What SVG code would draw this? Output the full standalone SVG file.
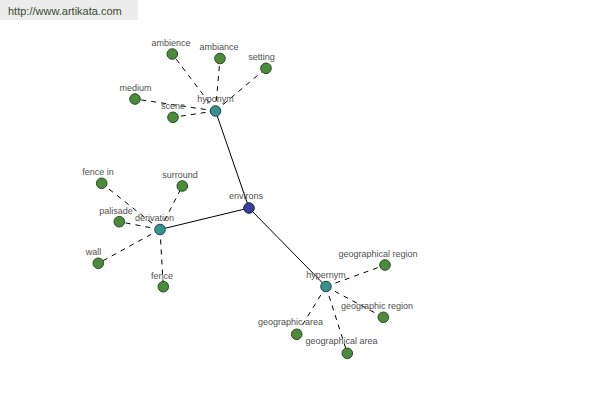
<svg xmlns="http://www.w3.org/2000/svg" width="600" height="400" viewBox="0 0 600 400">
<style>
text{font-family:"Liberation Sans",Arial,sans-serif;font-size:9px;fill:#505050;text-anchor:middle}
.leaf{fill:#4a8c3c;stroke:#2a4a20;stroke-width:1}
.hub{fill:#3a9090;stroke:#1f4a4a;stroke-width:1}
.root{fill:#3a3f9c;stroke:#1c1f4e;stroke-width:1}
.d{stroke:#000;stroke-width:1;stroke-dasharray:5,5;fill:none}
.s{stroke:#000;stroke-width:1;fill:none}
.wm{font-size:11px;fill:#3c4a30;text-anchor:start}
</style>
<rect width="600" height="400" fill="#fff"/>
<rect x="0" y="0" width="138" height="20" fill="#ececec"/>
<text class="wm" x="8" y="15">http://www.artikata.com</text>
<g id="connectors">
<line class="s" x1="249" y1="208" x2="215.5" y2="111"/>
<line class="s" x1="249" y1="208" x2="160" y2="229.5"/>
<line class="s" x1="249" y1="208" x2="326" y2="286.5"/>
<line class="d" x1="215.5" y1="111" x2="172.3" y2="54"/>
<line class="d" x1="215.5" y1="111" x2="220" y2="58.5"/>
<line class="d" x1="215.5" y1="111" x2="266" y2="68.3"/>
<line class="d" x1="215.5" y1="111" x2="135" y2="99"/>
<line class="d" x1="215.5" y1="111" x2="173" y2="117.3"/>
<line class="d" x1="160" y1="229.5" x2="101.7" y2="183.3"/>
<line class="d" x1="160" y1="229.5" x2="182.3" y2="186"/>
<line class="d" x1="160" y1="229.5" x2="119.3" y2="221.7"/>
<line class="d" x1="160" y1="229.5" x2="98.3" y2="263.3"/>
<line class="d" x1="160" y1="229.5" x2="163.3" y2="286.7"/>
<line class="d" x1="326" y1="286.5" x2="385" y2="265"/>
<line class="d" x1="326" y1="286.5" x2="383.3" y2="317.3"/>
<line class="d" x1="326" y1="286.5" x2="296.7" y2="334.3"/>
<line class="d" x1="326" y1="286.5" x2="347.3" y2="353.3"/>
</g>
<g id="n-environs"><circle class="root" cx="249" cy="208" r="5.3"/><text x="246" y="199">environs</text></g>
<g id="n-hyponym"><circle class="hub" cx="215.5" cy="111" r="5.3"/><text x="215.5" y="102">hyponym</text></g>
<g id="n-derivation"><circle class="hub" cx="160" cy="229.5" r="5.3"/><text x="154.5" y="221">derivation</text></g>
<g id="n-hypernym"><circle class="hub" cx="326" cy="286.5" r="5.3"/><text x="326" y="277.5">hypernym</text></g>
<g id="n-ambience"><circle class="leaf" cx="172.3" cy="54" r="5.3"/><text x="171" y="46">ambience</text></g>
<g id="n-ambiance"><circle class="leaf" cx="220" cy="58.5" r="5.3"/><text x="219" y="49.5">ambiance</text></g>
<g id="n-setting"><circle class="leaf" cx="266" cy="68.3" r="5.3"/><text x="261.5" y="60">setting</text></g>
<g id="n-medium"><circle class="leaf" cx="135" cy="99" r="5.3"/><text x="135.5" y="91">medium</text></g>
<g id="n-scene"><circle class="leaf" cx="173" cy="117.3" r="5.3"/><text x="173" y="108.5">scene</text></g>
<g id="n-fence-in"><circle class="leaf" cx="101.7" cy="183.3" r="5.3"/><text x="98" y="175">fence in</text></g>
<g id="n-surround"><circle class="leaf" cx="182.3" cy="186" r="5.3"/><text x="180" y="177.5">surround</text></g>
<g id="n-palisade"><circle class="leaf" cx="119.3" cy="221.7" r="5.3"/><text x="116" y="214">palisade</text></g>
<g id="n-wall"><circle class="leaf" cx="98.3" cy="263.3" r="5.3"/><text x="93.5" y="254.5">wall</text></g>
<g id="n-fence"><circle class="leaf" cx="163.3" cy="286.7" r="5.3"/><text x="162" y="278.5">fence</text></g>
<g id="n-geographical-region"><circle class="leaf" cx="385" cy="265" r="5.3"/><text x="378" y="257">geographical region</text></g>
<g id="n-geographic-region"><circle class="leaf" cx="383.3" cy="317.3" r="5.3"/><text x="377" y="308.5">geographic region</text></g>
<g id="n-geographic-area"><circle class="leaf" cx="296.7" cy="334.3" r="5.3"/><text x="290.5" y="324.5">geographic area</text></g>
<g id="n-geographical-area"><circle class="leaf" cx="347.3" cy="353.3" r="5.3"/><text x="341.5" y="343.5">geographical area</text></g>
</svg>
